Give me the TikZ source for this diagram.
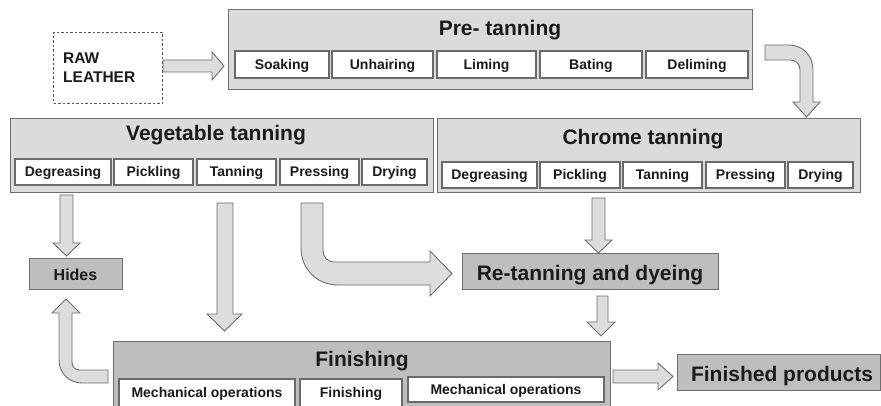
\documentclass[tikz,border=0pt]{standalone}
\usepackage{fontspec}
\setmainfont{Liberation Sans}
\definecolor{boxlight}{HTML}{DBDBDB}
\definecolor{boxdark}{HTML}{BEBEBE}
\definecolor{edge}{HTML}{6E6E6E}
\definecolor{subedge}{HTML}{6A6A6A}
\definecolor{arrfill}{HTML}{DDDDDD}
\definecolor{ink}{HTML}{1A1A1A}
\newcommand\mkbox[7]{\node[#1, minimum width={#4-#2}, minimum height={#5-#3}] (#6) at (#2,#3) {#7};}
\begin{document}
\begin{tikzpicture}[x=1pt,y=-1pt,
  bigbox/.style={draw=edge, line width=1pt, fill=boxlight, anchor=north west, inner sep=0pt, outer sep=0pt},
  darkbox/.style={draw=edge, line width=1pt, fill=boxdark, anchor=north west, inner sep=0pt, outer sep=0pt},
  subbox/.style={draw=subedge, line width=1.3pt, fill=white, anchor=north west, inner sep=0pt, outer sep=0pt,
    text=ink, font=\fontsize{14}{14}\selectfont\bfseries, text height=10pt, text depth=0pt},
  rawbox/.style={draw=black!65, line width=1pt, dash pattern=on 2.5pt off 2pt, fill=white, anchor=north west, inner sep=0pt},
  title/.style={font=\fontsize{21}{21}\selectfont\bfseries, text=ink, inner sep=0pt, anchor=base},
  midlabel/.style={font=\fontsize{16}{16}\selectfont\bfseries, text=ink, inner sep=0pt, anchor=base},
  arr/.style={draw=edge, line width=0.9pt, fill=arrfill, line join=miter},
]
\useasboundingbox (0,0) rectangle (881,406);

% ---------- boxes ----------
\mkbox{rawbox}{53}{32}{162}{103}{raw}{}
\node[font=\fontsize{15.5}{19}\selectfont\bfseries, text=ink, align=left, anchor=west, inner sep=0pt] (rawtext) at (63,67.5) {RAW\\LEATHER};

\mkbox{bigbox}{228}{10}{752}{90}{pre}{}
\node[title] (pretitle) at (500,36) {Pre- tanning};
\mkbox{subbox}{235}{51}{329}{78}{p1}{Soaking}
\mkbox{subbox}{332}{51}{433}{78}{p2}{Unhairing}
\mkbox{subbox}{437}{51}{536}{78}{p3}{Liming}
\mkbox{subbox}{540}{51}{642}{78}{p4}{Bating}
\mkbox{subbox}{646}{51}{748}{78}{p5}{Deliming}

\mkbox{bigbox}{10}{119}{433}{193}{veg}{}
\node[title] (vegtitle) at (216,141) {Vegetable tanning};
\mkbox{subbox}{15}{159}{111}{185}{v1}{Degreasing}
\mkbox{subbox}{114}{159}{193}{185}{v2}{Pickling}
\mkbox{subbox}{197}{159}{276}{185}{v3}{Tanning}
\mkbox{subbox}{280}{159}{359}{185}{v4}{Pressing}
\mkbox{subbox}{362}{159}{427}{185}{v5}{Drying}

\mkbox{bigbox}{437}{119}{860}{193}{chr}{}
\node[title] (chrtitle) at (643,145) {Chrome tanning};
\mkbox{subbox}{442}{162}{537}{188}{c1}{Degreasing}
\mkbox{subbox}{540}{162}{620}{188}{c2}{Pickling}
\mkbox{subbox}{623}{162}{702}{188}{c3}{Tanning}
\mkbox{subbox}{706}{162}{785}{188}{c4}{Pressing}
\mkbox{subbox}{788}{162}{853}{188}{c5}{Drying}

\mkbox{darkbox}{29}{259}{122}{289}{hides}{}
\node[midlabel] (hidestext) at (75.5,280) {Hides};

\mkbox{darkbox}{462}{254}{718}{289}{retan}{}
\node[title] (retantext) at (590,280) {Re-tanning and dyeing};

\mkbox{darkbox}{113}{341}{610}{412}{fin}{}
\node[title] (fintitle) at (362,366) {Finishing};
\mkbox{subbox}{119}{379}{295}{408}{f1}{}
\node[subbox, draw=none, fill=none, anchor=base] at (207,397) {Mechanical operations};
\mkbox{subbox}{300}{379}{402}{408}{f2}{}
\node[subbox, draw=none, fill=none, anchor=base] at (351,397) {Finishing};
\mkbox{subbox}{408}{377}{604}{402}{f3}{Mechanical operations}

\mkbox{darkbox}{677}{354}{880}{390}{prod}{}
\node[title] (prodtext) at (782,381) {Finished products};

% ---------- block arrows ----------
% raw leather -> pre-tanning
\draw[arr] (163,60) -- (212,60) -- (212,52) -- (224,66) -- (212,80) -- (212,72) -- (163,72) -- cycle;
% pre-tanning -> chrome tanning (bent)
\draw[arr] (765,45) -- (789,45) .. controls (803,45) and (813,56) .. (813,70) -- (813,102) -- (820,102) -- (806.5,117)
  -- (793,102) -- (800,102) -- (800,70) .. controls (800,64) and (796,60) .. (790,60) -- (765,60) -- cycle;
% veg degreasing -> hides
\draw[arr] (60,195) -- (73,195) -- (73,243) -- (80,243) -- (66.5,256) -- (53,243) -- (60,243) -- cycle;
% finishing -> hides (bent up)
\draw[arr] (108,370) -- (80,370) .. controls (75,370) and (72,367) .. (72,362) -- (72,313) -- (80,313) -- (66,299)
  -- (52,313) -- (59,313) -- (59,360) .. controls (59,373) and (69,383) .. (82,383) -- (108,383) -- cycle;
% veg tanning -> finishing
\draw[arr] (217,203) -- (233,203) -- (233,314) -- (242,314) -- (224.5,331) -- (207,314) -- (217,314) -- cycle;
% veg pressing -> re-tanning (bent)
\draw[arr] (301,203) -- (323,203) -- (323,250) .. controls (323,257) and (327,262) .. (335,262) -- (430,262)
  -- (430,251) -- (452,273.5) -- (430,296) -- (430,285) -- (338,285) .. controls (317,285) and (301,269) .. (301,248) -- cycle;
% chrome pickling -> re-tanning
\draw[arr] (592,198) -- (605,198) -- (605,240) -- (612,240) -- (598.5,253) -- (585,240) -- (592,240) -- cycle;
% re-tanning -> finishing
\draw[arr] (597,296) -- (608,296) -- (608,322) -- (615,322) -- (601,336) -- (587,322) -- (597,322) -- cycle;
% finishing -> finished products
\draw[arr] (613,370) -- (658,370) -- (658,363) -- (673,376.5) -- (658,390) -- (658,383) -- (613,383) -- cycle;
\end{tikzpicture}
\end{document}
